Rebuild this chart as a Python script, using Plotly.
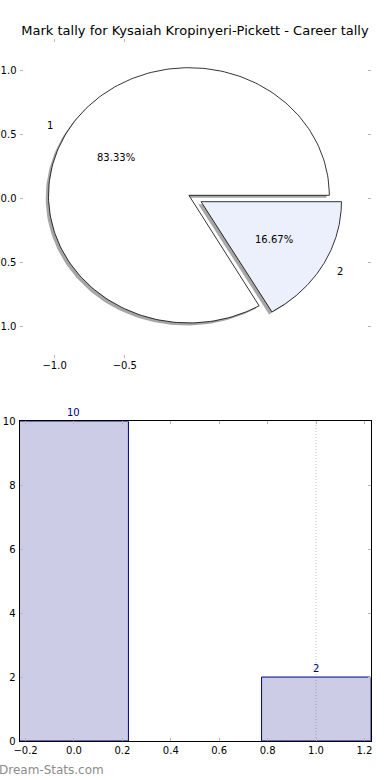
import numpy as np
import plotly.graph_objects as go

title = "Mark tally for Kysaiah Kropinyeri-Pickett - Career tally"
mark_labels = ["1", "2"]
mark_counts = [10, 2]
bar_positions = [0, 1]
slice_colors = ["#FFFFFF", "#EBF0FC"]
explode = [0.05, 0.05]
pie_xticks = [-1.0, -0.5]
pie_yticks = [-1.0, -0.5, 0.0, 0.5, 1.0]
bar_xticks = [-0.2, 0.0, 0.2, 0.4, 0.6, 0.8, 1.0, 1.2]
bar_yticks = [0, 2, 4, 6, 8, 10]

FONT = "DejaVu Sans"
TICKC = "#b8b8b8"

fig = go.Figure()

# ---- pie (drawn as wedges on a cartesian axis, like matplotlib) ----
total = sum(mark_counts)
theta1 = 0.0
wedges = []
for lab, v, col, ex in zip(mark_labels, mark_counts, slice_colors, explode):
    theta2 = theta1 + 360.0 * v / total
    mid = np.deg2rad((theta1 + theta2) / 2)
    ox, oy = ex * np.cos(mid), ex * np.sin(mid)
    t = np.deg2rad(np.linspace(theta1, theta2, 200))
    xs = np.concatenate([[ox], ox + np.cos(t), [ox]])
    ys = np.concatenate([[oy], oy + np.sin(t), [oy]])
    wedges.append((lab, v, col, xs, ys, mid, ox, oy))
    theta1 = theta2

for lab, v, col, xs, ys, mid, ox, oy in wedges:
    fig.add_trace(go.Scatter(x=xs - 0.02, y=ys - 0.02, fill="toself", mode="lines",
                             fillcolor="rgba(77,77,77,0.5)", line=dict(width=0),
                             hoverinfo="skip", showlegend=False, xaxis="x", yaxis="y"))
for lab, v, col, xs, ys, mid, ox, oy in wedges:
    fig.add_trace(go.Scatter(x=xs, y=ys, fill="toself", mode="lines",
                             fillcolor=col, line=dict(width=0.8, color="black"),
                             hoverinfo="skip", showlegend=False, xaxis="x", yaxis="y"))

annotations = []
for lab, v, col, xs, ys, mid, ox, oy in wedges:
    lx = ox + 1.1 * np.cos(mid)
    ly = oy + 1.1 * np.sin(mid)
    annotations.append(dict(x=lx, y=ly, xref="x", yref="y", text=lab, showarrow=False,
                            xanchor="right" if lx < 0 else "left", yanchor="middle",
                            font=dict(family=FONT, size=10, color="black")))
    px = ox + 0.6 * np.cos(mid)
    py = oy + 0.6 * np.sin(mid)
    annotations.append(dict(x=px, y=py, xref="x", yref="y",
                            text=f"{100.0 * v / total:.2f}%", showarrow=False,
                            xanchor="center", yanchor="middle",
                            font=dict(family=FONT, size=10, color="black")))

# ---- bar chart ----
fig.add_trace(go.Bar(x=bar_positions, y=mark_counts, width=0.45,
                     marker=dict(color="rgba(0,0,128,0.2)", line=dict(color="#000080", width=1)),
                     hoverinfo="skip", showlegend=False, xaxis="x2", yaxis="y2"))
for xp, v in zip(bar_positions, mark_counts):
    annotations.append(dict(x=xp, y=v, xref="x2", yref="y2", text=str(v), showarrow=False,
                            xanchor="center", yanchor="bottom", yshift=1,
                            font=dict(family=FONT, size=10, color="#000080")))

annotations.append(dict(x=-3 / 390, y=1 - 770 / 780, xref="paper", yref="paper",
                        text="Dream-Stats.com", showarrow=False, xanchor="left",
                        yanchor="middle", font=dict(family=FONT, size=12, color="#8c8c8c")))

shapes = [dict(type="line", xref="x2", yref="y2 domain", x0=bar_positions[1], x1=bar_positions[1],
               y0=0, y1=1, line=dict(color="#c4c4c4", width=1, dash="1px,2px"), layer="below")]

common = dict(ticks="inside", ticklen=3, tickcolor=TICKC, showgrid=False, zeroline=False,
              fixedrange=True, automargin=False)

fig.update_layout(
    width=390, height=780,
    margin=dict(l=0, r=0, t=0, b=0, autoexpand=False),
    paper_bgcolor="white", plot_bgcolor="white",
    font=dict(family=FONT, size=10, color="black"),
    title=dict(text=title, x=0.5, xanchor="center", y=1 - 30 / 780, yanchor="middle",
               automargin=False, font=dict(family=FONT, size=13, color="black")),
    xaxis=dict(domain=[0.05, 0.95], range=[-1.25, 1.25], tickvals=pie_xticks,
               tickformat=".1f", showline=False, mirror="ticks", anchor="y", **common),
    yaxis=dict(domain=[0.541, 0.95], range=[-1.25, 1.25], tickvals=pie_yticks,
               tickformat=".1f", showline=False, mirror="ticks", anchor="x",
               ticklabelstandoff=2, **common),
    xaxis2=dict(domain=[0.05, 0.95], range=[-0.225, 1.225], tickvals=bar_xticks,
                tickformat=".1f", showline=True, linecolor="black", linewidth=1,
                mirror="ticks", anchor="y2", **common),
    yaxis2=dict(domain=[0.05, 0.46], range=[0, 10], tickvals=bar_yticks,
                showline=True, linecolor="black", linewidth=1, mirror="ticks",
                anchor="x2", ticklabelstandoff=1, **common),
    annotations=annotations,
    shapes=shapes,
    bargap=0,
)

fig.write_html("out.html", config={"displayModeBar": False, "staticPlot": True},
               post_script="document.body.style.margin='0';document.body.style.padding='0';")
